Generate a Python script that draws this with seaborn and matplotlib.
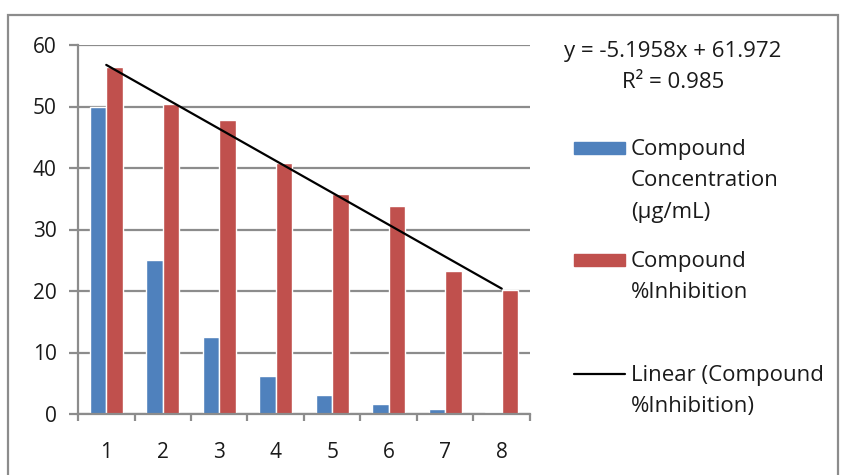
import numpy as np
import pandas as pd
import matplotlib
matplotlib.use("Agg")
import matplotlib.pyplot as plt
import seaborn as sns
from matplotlib.patches import Rectangle
from matplotlib.lines import Line2D

categories = ["1", "2", "3", "4", "5", "6", "7", "8"]
concentration = [50, 25, 12.5, 6.25, 3.125, 1.5625, 0.78, 0.39]
inhibition = [56.5, 50.4, 47.8, 40.8, 35.8, 33.8, 23.3, 20.2]
series_names = ["Compound\nConcentration\n(µg/mL)", "Compound\n%Inhibition"]
trend_label = "Linear (Compound\n%Inhibition)"
equation_text = "y = -5.1958x + 61.972"
r2_text = "R² = 0.985"
colors = ["#4F81BD", "#C0504D"]

df = pd.DataFrame({
    "cat": categories * 2,
    "value": concentration + inhibition,
    "series": [series_names[0]] * 8 + [series_names[1]] * 8,
})

sns.set_theme(style="white")
plt.rcParams["font.family"] = ["Open Sans", "DejaVu Sans"]

W, H = 845, 475
TXT = "#1a1a1a"
GRID = "#8c8c8c"
fig = plt.figure(figsize=(W / 100, H / 100), dpi=100)
ax = fig.add_axes([78 / W, 1 - 414 / H, (530 - 78) / W, (414 - 45) / H])

sns.barplot(data=df, x="cat", y="value", hue="series", palette=colors,
            width=0.58, gap=0, ax=ax, legend=False, saturation=1)

# linear trendline fitted on the inhibition series
xs = np.arange(1, len(categories) + 1)
slope, intercept = np.polyfit(xs, inhibition, 1)
fit = slope * xs + intercept
ax.plot(xs - 1, fit, color="black", lw=1.6, zorder=5)

ax.set_xlim(-0.5, len(categories) - 0.5)
ax.set_ylim(0, 60)
ax.set_yticks(range(0, 61, 10))
ax.yaxis.grid(True, color=GRID, lw=1.6)
ax.set_axisbelow(True)
for s in ["top", "right"]:
    ax.spines[s].set_visible(False)
for s in ["left", "bottom"]:
    ax.spines[s].set_color(GRID)
    ax.spines[s].set_linewidth(1.6)
ax.set_xlabel("")
ax.set_ylabel("")
ax.tick_params(axis="y", left=True, length=6.5, width=1.6, color=GRID,
               labelsize=15, pad=9, labelcolor=TXT)
ax.set_xticks(np.arange(len(categories)))
ax.set_xticklabels(categories)
ax.tick_params(axis="x", bottom=False, labelsize=15, pad=14, labelcolor=TXT)
ax.set_xticks(np.arange(-0.5, len(categories)), minor=True)
ax.tick_params(axis="x", which="minor", bottom=True, length=5, width=1.6, color=GRID)

# trendline equation
fig.text(673 / W, 1 - 52 / H, equation_text, ha="center", va="center", fontsize=16, color=TXT)
fig.text(673 / W, 1 - 83 / H, r2_text, ha="center", va="center", fontsize=16, color=TXT)

# legend (Excel style: key aligned with first line of each label)
def fy(y):
    return 1 - y / H

entries = [(series_names[0], "patch", colors[0], 148),
           (series_names[1], "patch", colors[1], 260),
           (trend_label, "line", "black", 374)]
for label, kind, col, yc in entries:
    if kind == "patch":
        fig.add_artist(Rectangle((574 / W, fy(yc + 6)), 51 / W, 12 / H,
                                 transform=fig.transFigure, color=col))
    else:
        fig.add_artist(Line2D([574 / W, 625 / W], [fy(yc), fy(yc)],
                              transform=fig.transFigure, color=col, lw=1.6))
    fig.text(631 / W, fy(yc - 9.5), label, ha="left", va="top",
             fontsize=16, color=TXT, linespacing=1.68)

# outer chart border
fig.add_artist(Rectangle((8 / W, -0.1), (838 - 8) / W, 1 - 15 / H + 0.1,
                         transform=fig.transFigure, fill=False, ec=GRID, lw=1.6))

fig.savefig("out.png", dpi=100)
